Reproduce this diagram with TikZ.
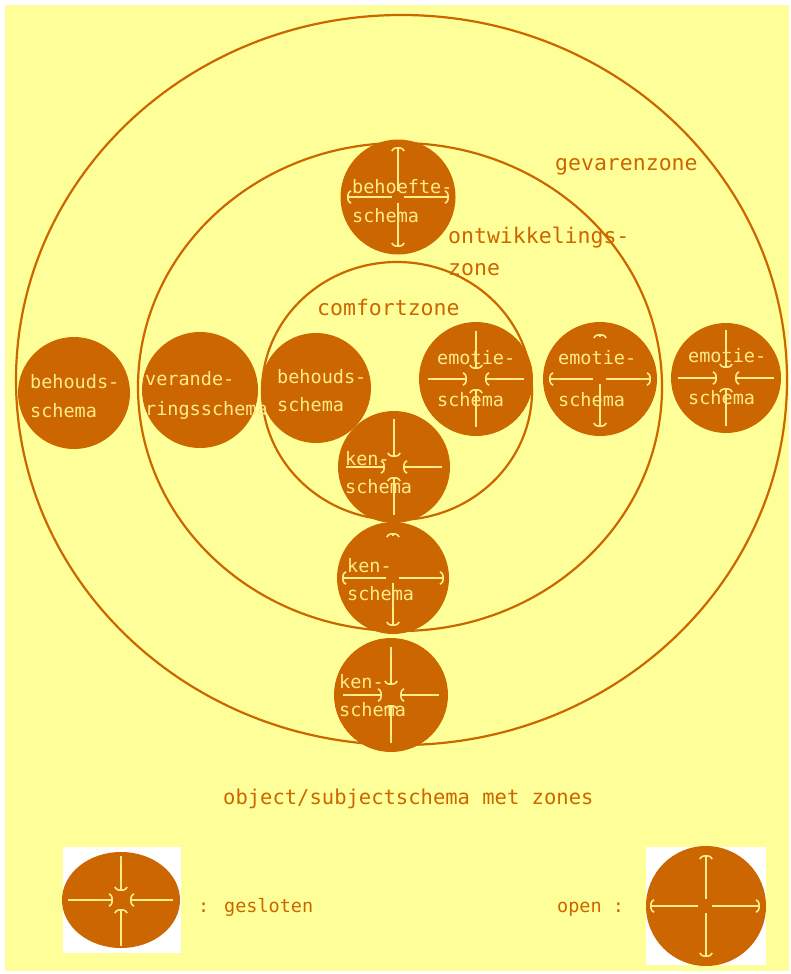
\documentclass[tikz,border=0pt]{standalone}
\usepackage{fontspec}
\usetikzlibrary{arrows.meta,shapes.geometric}
\newfontfamily\pxfont{DejaVu Sans Mono}
\definecolor{paper}{HTML}{FFFF99}
\definecolor{brn}{HTML}{CC6600}
\definecolor{pale}{HTML}{FFEB8A}

\begin{document}
\begin{tikzpicture}[x=1pt,y=-1pt,
  zone/.style={draw=brn,line width=2.2pt},
  schema/.style={circle,fill=brn,minimum size=#1,inner sep=0pt},
  schema/.default=114pt,
  zlabel/.style={text=brn,anchor=base west,inner sep=0pt,font=\pxfont\fontsize{21.5}{24}\selectfont},
  llabel/.style={text=brn,anchor=base west,inner sep=0pt,font=\pxfont\fontsize{18.5}{22}\selectfont},
  slabel/.style={text=pale,anchor=base west,inner sep=0pt,font=\pxfont\fontsize{18.5}{22}\selectfont},
  arr/.style={draw=pale,line width=1.7pt},
  archead/.tip={Arc Barb[length=4pt,width=14pt,line width=1.6pt]},
  % arrows pointing inwards: closed schema
  closedsym/.pic={
    \draw[arr,-archead] (0,-48) -- (0,-10);
    \draw[arr,-archead] (0,48) -- (0,10);
    \draw[arr,-archead] (-48,0) -- (-9,0);
    \draw[arr,-archead] (48,0) -- (9,0);
  },
  % arrows pointing outwards: open schema
  opensym/.pic={
    \draw[arr,-archead] (0,-6) -- (0,-50);
    \draw[arr,-archead] (0,6) -- (0,50);
    \draw[arr,-archead] (-6,0) -- (-51,0);
    \draw[arr,-archead] (6,0) -- (51,0);
  },
  % opening schema: sideways and downwards, only a tip upwards
  halfsym/.pic={
    \draw[arr,-archead] (0,-42) -- (0,-45);
    \draw[arr,-archead] (0,5) -- (0,48);
    \draw[arr,-archead] (-7,0) -- (-51,0);
    \draw[arr,-archead] (6,0) -- (51,0);
  },
]
\useasboundingbox (0,0) rectangle (791,974);
\fill[white] (0,0) rectangle (791,974);
\fill[paper] (5,5) rectangle (789,971);

% zones
\draw[zone] (401.5,380) ellipse [x radius=385.5, y radius=365];
\draw[zone] (400,387) ellipse [x radius=262, y radius=244];
\draw[zone] (397,391) ellipse [x radius=135, y radius=129];

\node[zlabel] (lGev) at (555,170) {gevarenzone};
\node[zlabel] (lOnt1) at (448,243) {ontwikkelings-};
\node[zlabel] (lOnt2) at (448,275) {zone};
\node[zlabel] (lCom) at (317,315) {comfortzone};

% schemas
\node[schema=115pt] (sBeh) at (398,197) {};
\node[schema=112pt] (sBhO) at (74,393) {};
\node[schema=116pt] (sVer) at (200,390) {};
\node[schema=110pt] (sBhI) at (316,388) {};
\node[schema=114pt] (sEmI) at (476,379) {};
\node[schema=114pt] (sEmM) at (600,379) {};
\node[schema=110pt] (sEmO) at (726,378) {};
\node[schema=112pt] (sKnI) at (394,467) {};
\node[schema=112pt] (sKnM) at (393,578) {};
\node[schema=114pt] (sKnO) at (391,695) {};

\pic at (sBeh.center) {opensym};
\pic at (sEmI.center) {closedsym};
\pic at (sEmM.center) {halfsym};
\pic at (sEmO.center) {closedsym};
\pic at (sKnI.center) {closedsym};
\pic at (sKnM.center) {halfsym};
\pic at (sKnO.center) {closedsym};

\node[slabel] (tBeh1) at (352,193) {behoefte-};
\node[slabel] (tBeh2) at (352,222) {schema};
\node[slabel] (tBhO1) at (30,388) {behouds-};
\node[slabel] (tBhO2) at (30,417) {schema};
\node[slabel] (tVer1) at (145,385) {verande-};
\node[slabel] (tVer2) at (145,415) {ringsschema};
\node[slabel] (tBhI1) at (277,383) {behouds-};
\node[slabel] (tBhI2) at (277,411) {schema};
\node[slabel] (tEmI1) at (437,364) {emotie-};
\node[slabel] (tEmI2) at (437,406) {schema};
\node[slabel] (tEmM1) at (558,364) {emotie-};
\node[slabel] (tEmM2) at (558,406) {schema};
\node[slabel] (tEmO1) at (688,362) {emotie-};
\node[slabel] (tEmO2) at (688,404) {schema};
\node[slabel] (tKnI1) at (345,465) {ken-};
\node[slabel] (tKnI2) at (345,493) {schema};
\node[slabel] (tKnM1) at (347,572) {ken-};
\node[slabel] (tKnM2) at (347,600) {schema};
\node[slabel] (tKnO1) at (339,688) {ken-};
\node[slabel] (tKnO2) at (339,716) {schema};

\node[zlabel,font=\pxfont\fontsize{20.5}{24}\selectfont] (tTitle) at (223,804) {object/subjectschema met zones};

% legend
\fill[white] (63,847) rectangle (181,953);
\node[ellipse,fill=brn,minimum width=118pt,minimum height=96pt,inner sep=0pt] (legClosed) at (121,900) {};
\draw[arr,-archead] (121,856) -- (121,891);
\draw[arr,-archead] (121,946) -- (121,909);
\draw[arr,-archead] (68,900) -- (113,900);
\draw[arr,-archead] (173,900) -- (130,900);
\node[llabel] (tGes) at (198,912) {: gesloten};

\fill[white] (646,847) rectangle (766,965);
\node[schema=120pt] (legOpen) at (706,906) {};
\draw[arr,-archead] (706,899) -- (706,855);
\draw[arr,-archead] (706,913) -- (706,957);
\draw[arr,-archead] (698,906) -- (650,906);
\draw[arr,-archead] (712,906) -- (760,906);
\node[llabel] (tOpen) at (557,912) {open :};
\end{tikzpicture}
\end{document}
